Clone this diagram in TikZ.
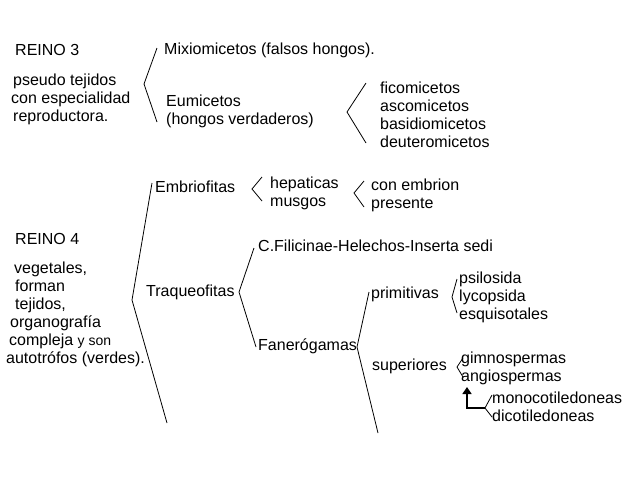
\documentclass[tikz,border=0pt]{standalone}
\usepackage{fontspec}
\setmainfont{Liberation Sans}
\usetikzlibrary{arrows.meta}

\begin{document}
\begin{tikzpicture}[
  x = 1pt, y = -1pt,
  every node/.style = {font=\fontsize{16}{18}\selectfont, inner sep=0pt},
  item/.style = {anchor=west, align=left},
  brace-line/.style = {draw, line width=0.8pt},
  up-arrow/.style = {draw, line width=1.5pt, -{Triangle[width=9pt,length=7pt]}},
  ]
  \useasboundingbox (0,0) rectangle (640,480);

  % reino 3
  \node[item] (reino3) at (15,50) {REINO 3};
  \node[item] (reino3-text) at (11,99) {\hspace*{2pt}pseudo tejidos\\con especialidad\\\hspace*{2pt}reproductora.};
  \node[item] (mixio) at (164,50) {Mixiomicetos (falsos hongos).};
  \node[item] (eumi) at (166,111) {Eumicetos\\(hongos verdaderos)};
  \node[item] (eumi-list) at (380,115) {ficomicetos\\ascomicetos\\basidiomicetos\\deuteromicetos};

  \coordinate (reino3-top) at (157,48);
  \coordinate (reino3-tip) at (144,84);
  \coordinate (reino3-bottom) at (157,122);
  \draw[brace-line] (reino3-top) -- (reino3-tip) -- (reino3-bottom);

  \coordinate (eumi-top) at (366,83);
  \coordinate (eumi-tip) at (347,112);
  \coordinate (eumi-bottom) at (366,143);
  \draw[brace-line] (eumi-top) -- (eumi-tip) -- (eumi-bottom);

  % reino 4
  \node[item] (reino4) at (15,239) {REINO 4};
  \node[item] (reino4-text) at (6,314) {\hspace*{8pt}vegetales,\\\hspace*{9pt}forman\\\hspace*{9pt}tejidos,\\\hspace*{4pt}organografía\\\hspace*{3pt}compleja {\fontsize{14}{18}\selectfont y son}\\autotrófos (verdes).};
  \node[item] (embrio) at (155,187) {Embriofitas};
  \node[item] (embrio-list) at (270,193) {hepaticas\\musgos};
  \node[item] (embrio-note) at (371,195) {con embrion\\presente};
  \node[item] (traqueo) at (146,292) {Traqueofitas};
  \node[item] (filic) at (258,246) {C.Filicinae-Helechos-Inserta sedi};
  \node[item] (fanero) at (258,346) {Fanerógamas};
  \node[item] (primit) at (371,294) {primitivas};
  \node[item] (primit-list) at (459,297) {psilosida\\lycopsida\\esquisotales};
  \node[item] (superi) at (372,366) {superiores};
  \node[item] (superi-list) at (461,368) {gimnospermas\\angiospermas};
  \node[item] (angio-list) at (492,407) {monocotiledoneas\\dicotiledoneas};

  \coordinate (reino4-top) at (152,183);
  \coordinate (reino4-tip) at (132,300);
  \coordinate (reino4-bottom) at (167,423);
  \draw[brace-line] (reino4-top) -- (reino4-tip) -- (reino4-bottom);

  \coordinate (embrio-top) at (262,177);
  \coordinate (embrio-tip) at (252,189);
  \coordinate (embrio-bottom) at (262,201);
  \draw[brace-line] (embrio-top) -- (embrio-tip) -- (embrio-bottom);

  \coordinate (musgo-top) at (364,181);
  \coordinate (musgo-tip) at (354,193);
  \coordinate (musgo-bottom) at (364,207);
  \draw[brace-line] (musgo-top) -- (musgo-tip) -- (musgo-bottom);

  \coordinate (traqueo-top) at (254,248);
  \coordinate (traqueo-tip) at (239,292);
  \coordinate (traqueo-bottom) at (256,347);
  \draw[brace-line] (traqueo-top) -- (traqueo-tip) -- (traqueo-bottom);

  \coordinate (fanero-top) at (369,292);
  \coordinate (fanero-tip) at (357,347);
  \coordinate (fanero-bottom) at (378,433);
  \draw[brace-line] (fanero-top) -- (fanero-tip) -- (fanero-bottom);

  \coordinate (primit-top) at (457,279);
  \coordinate (primit-tip) at (452,297);
  \coordinate (primit-bottom) at (457,313);
  \draw[brace-line] (primit-top) -- (primit-tip) -- (primit-bottom);

  \coordinate (superi-top) at (463,358);
  \coordinate (superi-tip) at (457,367);
  \coordinate (superi-bottom) at (463,377);
  \draw[brace-line] (superi-top) -- (superi-tip) -- (superi-bottom);

  \coordinate (angio-top) at (492,395);
  \coordinate (angio-tip) at (485,408);
  \coordinate (angio-bottom) at (492,417);
  \draw[brace-line] (angio-top) -- (angio-tip) -- (angio-bottom);

  \coordinate (angio-mark) at (467,387);
  \draw[up-arrow] (angio-tip) -| (angio-mark);
\end{tikzpicture}
\end{document}
